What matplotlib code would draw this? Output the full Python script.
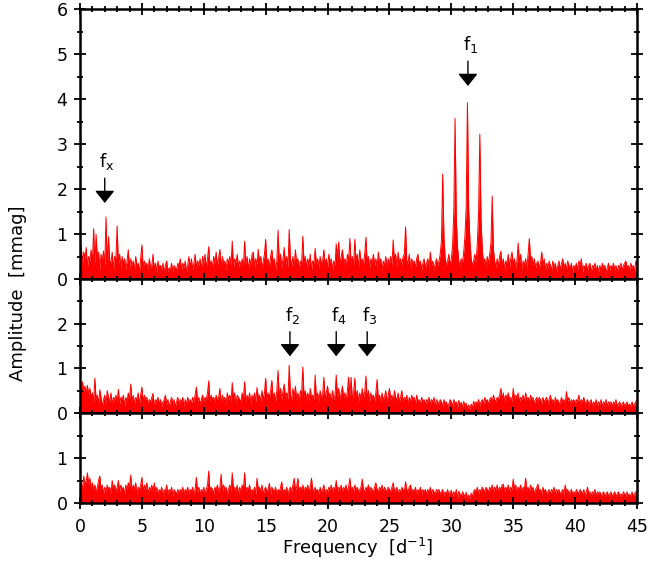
import numpy as np
import matplotlib
matplotlib.use("Agg")
import matplotlib.pyplot as plt
from matplotlib.ticker import MultipleLocator

plt.rcParams['font.family'] = ['DejaVu Sans']
plt.rcParams['mathtext.fontset'] = 'dejavusans'
plt.rcParams['mathtext.default'] = 'regular'

# frequency grid step 0.1 d^-1, 0..45
freq_start = 0.0
freq_step = 0.1

amp_top = [
    0.55,0.75,0.30,0.60,0.45,0.70,0.25,0.50,0.40,0.65,
    0.35,1.12,0.30,0.99,0.45,0.60,0.20,0.55,0.40,0.62,
    0.30,1.38,0.25,0.94,0.40,0.35,0.60,0.20,0.50,0.45,
    1.18,0.30,0.55,0.25,0.50,0.35,0.45,0.20,0.40,0.65,
    0.25,0.45,0.30,0.40,0.20,0.50,0.30,0.35,0.15,0.45,
    0.76,0.25,0.40,0.30,0.35,0.20,0.45,0.25,0.30,0.55,
    0.20,0.35,0.15,0.40,0.25,0.30,0.20,0.35,0.15,0.30,
    0.40,0.15,0.25,0.20,0.35,0.15,0.30,0.25,0.20,0.35,
    0.30,0.45,0.20,0.35,0.25,0.40,0.15,0.30,0.50,0.25,
    0.45,0.20,0.35,0.55,0.25,0.40,0.30,0.45,0.20,0.50,
    0.35,0.55,0.25,0.45,0.72,0.30,0.40,0.25,0.50,0.35,
    0.60,0.30,0.45,0.66,0.25,0.50,0.35,0.40,0.20,0.45,
    0.35,0.50,0.30,0.84,0.25,0.45,0.35,0.55,0.25,0.40,
    0.30,0.45,0.25,0.84,0.35,0.50,0.20,0.45,0.30,0.55,
    0.60,0.25,0.45,0.30,0.66,0.35,0.50,0.25,0.40,0.55,
    0.88,0.30,0.45,0.25,0.50,0.65,0.35,0.45,0.20,0.40,
    1.08,0.35,0.55,0.25,0.45,0.70,0.30,0.50,0.25,1.10,
    0.45,0.30,0.50,0.25,0.65,0.35,0.45,0.20,0.40,0.30,
    0.95,0.35,0.50,0.25,0.45,0.30,0.55,0.20,0.40,0.35,
    0.68,0.30,0.45,0.25,0.50,0.35,0.40,0.65,0.30,0.45,
    0.25,0.55,0.35,0.45,0.20,0.40,0.30,0.78,0.45,0.82,
    0.30,0.50,0.65,0.35,0.45,0.25,0.55,0.40,0.90,0.35,
    0.50,0.30,0.88,0.40,0.55,0.25,0.65,0.35,0.45,0.30,
    0.55,0.93,0.35,0.50,0.25,0.45,0.35,0.55,0.30,0.45,
    0.25,0.60,0.35,0.45,0.20,0.40,0.30,0.50,0.25,0.45,
    0.35,0.50,0.30,0.87,0.40,0.55,0.25,0.60,0.35,0.45,
    0.30,0.50,0.55,1.16,0.40,0.35,0.55,0.25,0.45,0.35,
    0.40,0.25,0.45,0.55,0.30,0.40,0.20,0.35,0.45,0.25,
    0.35,0.45,0.25,0.60,0.30,0.40,0.20,0.35,0.45,0.30,
    0.40,0.55,0.85,2.33,0.95,0.45,0.30,0.40,0.55,0.30,
    0.45,0.75,1.50,3.57,1.35,0.70,0.40,0.30,0.45,0.35,
    0.60,0.95,1.60,3.92,1.55,0.85,0.45,0.30,0.40,0.55,
    0.35,0.80,1.45,3.22,1.30,0.65,0.35,0.45,0.25,0.50,
    0.35,0.55,0.80,1.84,0.65,0.40,0.25,0.45,0.30,0.50,
    0.62,0.30,0.45,0.20,0.40,0.35,0.55,0.25,0.45,0.60,
    0.30,0.45,0.25,0.40,0.80,0.35,0.55,0.20,0.40,0.30,
    0.45,0.25,0.55,0.90,0.40,0.50,0.30,0.45,0.25,0.35,
    0.40,0.25,0.35,0.60,0.30,0.45,0.20,0.35,0.25,0.40,
    0.30,0.20,0.40,0.25,0.35,0.15,0.30,0.40,0.20,0.35,
    0.45,0.25,0.35,0.20,0.40,0.30,0.25,0.35,0.15,0.30,
    0.25,0.35,0.20,0.40,0.30,0.45,0.15,0.30,0.25,0.35,
    0.20,0.30,0.35,0.15,0.30,0.25,0.35,0.20,0.30,0.15,
    0.30,0.20,0.35,0.25,0.30,0.15,0.25,0.35,0.20,0.30,
    0.25,0.35,0.20,0.30,0.15,0.30,0.25,0.35,0.20,0.30,
    0.35,0.40,0.25,0.30,0.20,0.35,0.25,0.30,0.15,0.40,
    0.35,
]

amp_mid = [
    0.45,0.55,0.70,0.50,0.60,0.45,0.62,0.40,0.55,0.35,
    0.45,0.25,0.78,0.30,0.40,0.20,0.52,0.35,0.15,0.30,
    0.40,0.20,0.50,0.35,0.25,0.45,0.20,0.35,0.30,0.40,
    0.25,0.53,0.20,0.35,0.30,0.40,0.15,0.35,0.25,0.45,
    0.30,0.65,0.25,0.40,0.20,0.35,0.30,0.45,0.20,0.40,
    0.58,0.25,0.40,0.30,0.35,0.20,0.30,0.25,0.35,0.44,
    0.15,0.30,0.25,0.35,0.20,0.30,0.15,0.25,0.30,0.40,
    0.20,0.30,0.15,0.25,0.35,0.20,0.30,0.15,0.25,0.35,
    0.20,0.30,0.25,0.35,0.15,0.30,0.20,0.35,0.25,0.30,
    0.20,0.35,0.25,0.40,0.58,0.25,0.35,0.20,0.30,0.40,
    0.25,0.35,0.30,0.45,0.72,0.25,0.40,0.30,0.35,0.25,
    0.40,0.30,0.35,0.55,0.20,0.40,0.30,0.35,0.20,0.45,
    0.30,0.40,0.25,0.68,0.30,0.45,0.20,0.40,0.35,0.30,
    0.25,0.45,0.30,0.70,0.25,0.40,0.30,0.45,0.20,0.40,
    0.30,0.45,0.25,0.57,0.35,0.40,0.25,0.50,0.30,0.45,
    0.78,0.30,0.45,0.35,0.50,0.73,0.30,0.45,0.25,0.50,
    0.95,0.35,0.55,0.30,0.50,0.65,0.35,0.45,0.30,1.07,
    0.40,0.30,0.55,0.35,0.60,0.30,0.45,0.25,0.50,0.40,
    1.03,0.35,0.50,0.30,0.45,0.25,0.55,0.35,0.40,0.30,
    0.85,0.30,0.45,0.25,0.50,0.35,0.40,0.80,0.30,0.45,
    0.60,0.35,0.45,0.25,0.50,0.30,0.40,0.85,0.35,0.55,
    0.30,0.45,0.60,0.35,0.45,0.25,0.50,0.80,0.35,0.80,
    0.30,0.45,0.78,0.35,0.50,0.25,0.45,0.30,0.55,0.35,
    0.45,0.83,0.30,0.50,0.25,0.45,0.35,0.40,0.25,0.45,
    0.75,0.30,0.40,0.25,0.45,0.30,0.35,0.50,0.25,0.40,
    0.55,0.30,0.40,0.25,0.50,0.35,0.30,0.45,0.25,0.35,
    0.50,0.25,0.35,0.30,0.40,0.20,0.35,0.25,0.40,0.30,
    0.35,0.20,0.40,0.25,0.30,0.20,0.35,0.25,0.30,0.20,
    0.30,0.25,0.35,0.20,0.30,0.25,0.35,0.15,0.30,0.25,
    0.20,0.30,0.25,0.15,0.30,0.20,0.25,0.15,0.20,0.30,
    0.25,0.15,0.30,0.20,0.25,0.12,0.28,0.18,0.24,0.12,
    0.26,0.15,0.22,0.10,0.18,0.08,0.20,0.12,0.26,0.18,
    0.25,0.20,0.30,0.15,0.25,0.30,0.20,0.35,0.25,0.30,
    0.20,0.30,0.35,0.25,0.40,0.30,0.25,0.35,0.30,0.40,
    0.55,0.30,0.45,0.25,0.40,0.35,0.45,0.30,0.35,0.25,
    0.55,0.30,0.40,0.35,0.45,0.25,0.35,0.30,0.40,0.25,
    0.45,0.30,0.35,0.25,0.40,0.30,0.35,0.20,0.30,0.35,
    0.25,0.35,0.30,0.20,0.35,0.25,0.30,0.35,0.20,0.30,
    0.40,0.25,0.30,0.20,0.35,0.25,0.30,0.20,0.25,0.35,
    0.25,0.30,0.20,0.48,0.25,0.35,0.20,0.30,0.25,0.30,
    0.20,0.30,0.25,0.40,0.20,0.30,0.25,0.35,0.20,0.25,
    0.30,0.20,0.25,0.30,0.15,0.25,0.20,0.30,0.15,0.25,
    0.20,0.30,0.15,0.25,0.20,0.30,0.15,0.25,0.20,0.25,
    0.15,0.25,0.20,0.30,0.15,0.20,0.25,0.15,0.20,0.25,
    0.15,0.20,0.25,0.15,0.20,0.15,0.25,0.15,0.20,0.25,
    0.31,
]

amp_bot = [
    0.35,0.45,0.30,0.60,0.40,0.50,0.67,0.40,0.55,0.35,
    0.45,0.30,0.40,0.25,0.35,0.50,0.60,0.30,0.40,0.20,
    0.35,0.25,0.40,0.30,0.35,0.20,0.50,0.30,0.40,0.25,
    0.35,0.50,0.25,0.40,0.30,0.35,0.20,0.40,0.30,0.45,
    0.35,0.62,0.25,0.40,0.30,0.45,0.20,0.35,0.30,0.40,
    0.57,0.25,0.40,0.30,0.45,0.20,0.35,0.30,0.40,0.25,
    0.45,0.25,0.35,0.20,0.30,0.25,0.35,0.15,0.30,0.25,
    0.40,0.20,0.30,0.25,0.35,0.15,0.30,0.25,0.20,0.30,
    0.20,0.30,0.25,0.35,0.20,0.30,0.25,0.35,0.20,0.30,
    0.25,0.35,0.20,0.30,0.57,0.25,0.35,0.20,0.30,0.25,
    0.35,0.20,0.30,0.40,0.71,0.25,0.35,0.30,0.20,0.35,
    0.30,0.40,0.25,0.35,0.64,0.25,0.40,0.30,0.35,0.20,
    0.30,0.40,0.25,0.67,0.30,0.35,0.25,0.40,0.20,0.35,
    0.25,0.40,0.30,0.67,0.25,0.35,0.30,0.40,0.20,0.30,
    0.25,0.35,0.20,0.55,0.30,0.35,0.25,0.40,0.20,0.30,
    0.35,0.25,0.30,0.44,0.20,0.35,0.30,0.25,0.35,0.20,
    0.30,0.25,0.35,0.47,0.20,0.30,0.25,0.35,0.20,0.30,
    0.35,0.25,0.40,0.55,0.30,0.35,0.55,0.25,0.35,0.30,
    0.40,0.25,0.35,0.30,0.40,0.25,0.35,0.55,0.30,0.25,
    0.35,0.25,0.30,0.20,0.35,0.25,0.30,0.40,0.20,0.30,
    0.25,0.35,0.30,0.40,0.25,0.35,0.30,0.50,0.25,0.35,
    0.30,0.40,0.25,0.35,0.30,0.40,0.25,0.35,0.55,0.30,
    0.35,0.25,0.40,0.30,0.35,0.25,0.30,0.35,0.53,0.30,
    0.25,0.35,0.30,0.40,0.25,0.35,0.30,0.25,0.35,0.45,
    0.30,0.25,0.35,0.30,0.40,0.25,0.35,0.30,0.25,0.35,
    0.30,0.25,0.35,0.45,0.25,0.30,0.35,0.20,0.30,0.25,
    0.35,0.30,0.25,0.47,0.30,0.25,0.35,0.40,0.25,0.30,
    0.25,0.35,0.20,0.30,0.25,0.35,0.20,0.30,0.25,0.30,
    0.20,0.30,0.25,0.35,0.20,0.30,0.25,0.20,0.30,0.25,
    0.30,0.20,0.25,0.30,0.15,0.25,0.20,0.30,0.15,0.25,
    0.28,0.15,0.25,0.18,0.30,0.12,0.26,0.20,0.14,0.25,
    0.20,0.12,0.24,0.10,0.18,0.08,0.22,0.15,0.26,0.30,
    0.25,0.35,0.20,0.30,0.25,0.35,0.30,0.25,0.35,0.30,
    0.25,0.35,0.30,0.40,0.25,0.35,0.30,0.40,0.25,0.35,
    0.30,0.40,0.42,0.25,0.35,0.30,0.40,0.25,0.35,0.30,
    0.53,0.30,0.40,0.25,0.35,0.30,0.40,0.25,0.35,0.30,
    0.55,0.30,0.35,0.25,0.40,0.30,0.35,0.20,0.30,0.35,
    0.42,0.25,0.30,0.20,0.35,0.25,0.30,0.20,0.25,0.30,
    0.20,0.30,0.25,0.35,0.20,0.30,0.25,0.30,0.20,0.25,
    0.30,0.20,0.40,0.25,0.30,0.20,0.25,0.30,0.20,0.25,
    0.20,0.30,0.25,0.20,0.30,0.25,0.20,0.30,0.15,0.25,
    0.35,0.20,0.25,0.15,0.25,0.20,0.30,0.15,0.25,0.20,
    0.25,0.15,0.20,0.25,0.15,0.20,0.25,0.15,0.20,0.25,
    0.15,0.20,0.25,0.15,0.20,0.25,0.15,0.20,0.15,0.25,
    0.20,0.15,0.25,0.15,0.20,0.15,0.25,0.15,0.20,0.25,
    0.25,
]

# marked frequencies: (label, frequency, panel)
mark_labels = ['f$_x$', 'f$_1$', 'f$_2$', 'f$_4$', 'f$_3$']
mark_freqs = [2.0, 31.34, 16.96, 20.7, 23.2]
mark_panel = [0, 0, 1, 1, 1]
mark_tip = [1.69, 4.29, 1.27, 1.27, 1.27]

x_ticks = [0, 5, 10, 15, 20, 25, 30, 35, 40, 45]

fig = plt.figure(figsize=(6.55, 5.78), dpi=100)
L, R = 80/655, 637/655
rects = [(L, 1-279/578, R-L, 270/578),
         (L, 1-413/578, R-L, 134/578),
         (L, 1-503/578, R-L, 90/578)]
ylims = [6, 3, 2]
yticks = [[0,1,2,3,4,5,6],[0,1,2],[0,1]]
data = [amp_top, amp_mid, amp_bot]
axes = []
for i in range(3):
    ax = fig.add_axes(rects[i])
    y = np.array(data[i])
    x = freq_start + freq_step*np.arange(len(y))
    ax.fill_between(x, 0, y, color='#ff0000', lw=0)
    ax.plot(x, y, color='#ff0000', lw=0.7)
    ax.set_xlim(0, 45)
    ax.set_ylim(0, ylims[i])
    ax.set_xticks(x_ticks)
    ax.xaxis.set_minor_locator(MultipleLocator(1))
    ax.set_yticks(yticks[i])
    ax.yaxis.set_minor_locator(MultipleLocator(0.5))
    ax.tick_params(which='both', direction='inout', top=True, right=True,
                   width=1.3, labelsize=12.5)
    ax.tick_params(which='major', length=8)
    ax.tick_params(which='minor', length=4)
    ax.tick_params(axis='x', pad=7)
    ax.tick_params(axis='y', pad=5)
    if i < 2:
        ax.tick_params(labelbottom=False)
    for s in ax.spines.values():
        s.set_linewidth(1.8)
    axes.append(ax)

for lab, f, p, tip in zip(mark_labels, mark_freqs, mark_panel, mark_tip):
    ax = axes[p]
    ax.annotate('', xy=(f, tip), xytext=(f, tip + 0.55),
                arrowprops=dict(arrowstyle='-|>,head_length=0.75,head_width=0.6',
                                color='black', lw=1, shrinkA=0, shrinkB=0),
                annotation_clip=False)
    ax.text(f + 0.2, tip + 0.68, lab, ha='center', va='bottom', fontsize=13)

fig.text(18/655, 1-293/578, 'Amplitude  [mmag]', rotation=90, ha='center',
         va='center', fontsize=13)
fig.text(358/655, 1-548/578, 'Frequency  [d$^{-1}$]', ha='center', va='center',
         fontsize=13)

fig.savefig('out.png', dpi=100)
